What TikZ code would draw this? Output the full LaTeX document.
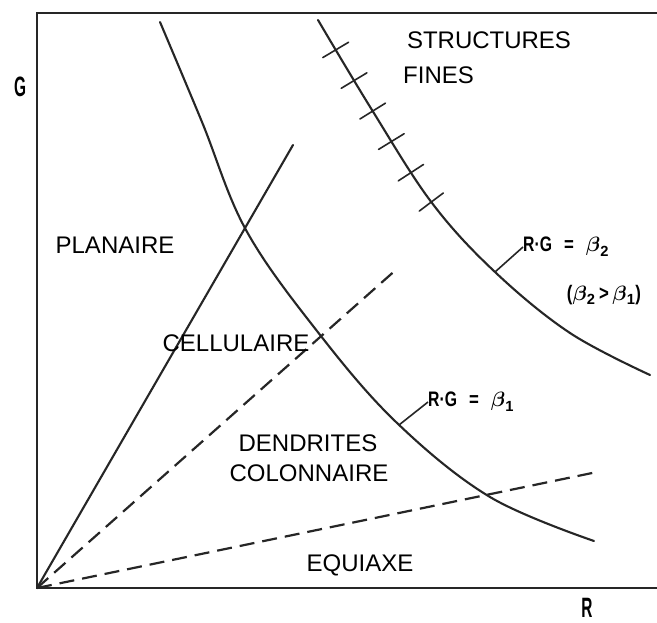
\documentclass[tikz,border=0pt]{standalone}
\usepackage{fontspec}
\usepackage{graphicx}
\usepackage{amsmath}
\setmainfont{Liberation Sans}
\usetikzlibrary{decorations.markings}
\begin{document}
\begin{tikzpicture}[x=1pt,y=-1pt,
  axisline/.style={line width=2.2pt, black!85},
  curve/.style={line width=2.1pt, black!85, line cap=round},
  dashline/.style={line width=2.2pt, black!85, dash pattern=on 15pt off 8pt},
  leader/.style={line width=1.6pt, black!85},
  region/.style={font=\fontsize{24}{26}\selectfont, inner sep=0pt},
  axlabel/.style={font=\fontsize{28}{28}\selectfont\bfseries, inner sep=0pt},
  eqlabel/.style={font=\fontsize{21}{22}\selectfont\bfseries, inner sep=0pt},
  tickmarks/.style={postaction={decorate}, decoration={markings,
     mark=at position 0.07 with {\draw[line width=1.6pt] (0,-15) -- (0,15);},
     mark=at position 0.142 with {\draw[line width=1.6pt] (0,-15) -- (0,15);},
     mark=at position 0.214 with {\draw[line width=1.6pt] (0,-15) -- (0,15);},
     mark=at position 0.286 with {\draw[line width=1.6pt] (0,-15) -- (0,15);},
     mark=at position 0.36 with {\draw[line width=1.6pt] (0,-15) -- (0,15);},
     mark=at position 0.432 with {\draw[line width=1.6pt] (0,-15) -- (0,15);}}}
]
\useasboundingbox (0,0) rectangle (657,623);
\fill[white] (0,0) rectangle (657,623);
% axes
\coordinate (O) at (37,588);
\coordinate (T) at (37,13);
\coordinate (TR) at (657,13);
\coordinate (BR) at (657,588);
\draw[axisline] (TR) -- (T) -- (O) -- (BR);
\node[axlabel] (G) at (20,87) {\scalebox{0.55}[1]{G}};
\node[axlabel] (R) at (587,608) {\scalebox{0.55}[1]{R}};
% boundary lines from origin
\coordinate (S1) at (293,145);
\coordinate (D1) at (398,268);
\coordinate (D2) at (597,472);
\draw[curve] (O) -- (S1);
\draw[dashline] (O) -- (D1);
\draw[dashline] (O) -- (D2);
% R.G = beta1 curve
\draw[curve] plot[smooth, tension=0.6] coordinates {(160,22) (202,122) (246,230) (317,331) (396,422) (490,497) (594,541)};
% R.G = beta2 curve with tick marks
\draw[curve, tickmarks] plot[smooth, tension=0.6] coordinates {(318,20) (372,110) (432,203) (495,272) (570,333) (650,375)};
% region labels
\node[region] (struct) at (489,40) {STRUCTURES};
\node[region, anchor=west] (fines) at (403,75) {FINES};
\node[region] (plan) at (115,245) {PLANAIRE};
\node[region] (cell) at (236,343) {CELLULAIRE};
\node[region] (dend) at (308,443) {DENDRITES};
\node[region] (colo) at (309,473) {COLONNAIRE};
\node[region] (equi) at (360,565) {EQUIAXE};
% equation labels with leaders
\node[eqlabel, anchor=west] (b2) at (523,247) {\scalebox{0.75}[1]{R·G}\hspace{12pt}\scalebox{0.8}[1]{=}\hspace{12pt}$\boldsymbol{\beta}_{\mathbf 2}$};
\node[eqlabel] (b2b) at (604,295) {\scalebox{0.8}[1]{(}$\boldsymbol{\beta}_{\mathbf 2}$\,\scalebox{0.8}[1]{>}\,$\boldsymbol{\beta}_{\mathbf 1}$\scalebox{0.8}[1]{)}};
\node[eqlabel, anchor=west] (b1) at (428,402) {\scalebox{0.75}[1]{R·G}\hspace{12pt}\scalebox{0.8}[1]{=}\hspace{12pt}$\boldsymbol{\beta}_{\mathbf 1}$};
\coordinate (L2) at (495,272);
\coordinate (L1) at (399,425);
\draw[leader] (L2) -- (b2.west);
\draw[leader] (L1) -- (b1.west);
\end{tikzpicture}
\end{document}
